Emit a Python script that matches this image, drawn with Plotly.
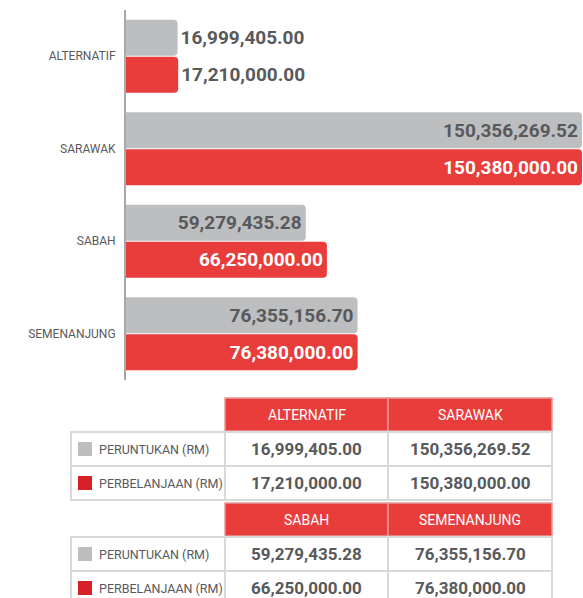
import plotly.graph_objects as go

# ---- data ----
categories = ["ALTERNATIF", "SARAWAK", "SABAH", "SEMENANJUNG"]
peruntukan = [16999405.00, 150356269.52, 59279435.28, 76355156.70]
perbelanjaan = [17210000.00, 150380000.00, 66250000.00, 76380000.00]
series_names = ["PERUNTUKAN (RM)", "PERBELANJAAN (RM)"]
label_positions = ["outside", "inside", "inside", "inside"]

W, H = 583, 598
GRAY = "#bdbec0"
RED = "#e83d3b"
LEG_RED = "#d71f26"
TXT = "#58595b"
FONT = "Roboto"

def X(px):
    return px / W

def Y(py):
    return 1 - py / H

def fmt(v):
    return f"{v:,.2f}"

fig = go.Figure()
fig.add_trace(go.Bar(
    y=categories, x=peruntukan, orientation="h", name=series_names[0],
    marker=dict(color=GRAY, line=dict(width=0)),
    text=[fmt(v) for v in peruntukan], textposition=label_positions,
    insidetextanchor="end", constraintext="none",
    insidetextfont=dict(color=TXT, size=19, family=FONT, weight="bold"),
    outsidetextfont=dict(color=TXT, size=19, family=FONT, weight="bold"),
    cliponaxis=False, hoverinfo="skip",
))
fig.add_trace(go.Bar(
    y=categories, x=perbelanjaan, orientation="h", name=series_names[1],
    marker=dict(color=RED, line=dict(width=0)),
    text=[fmt(v) for v in perbelanjaan], textposition=label_positions,
    insidetextanchor="end", constraintext="none",
    insidetextfont=dict(color="white", size=19, family=FONT, weight="bold"),
    outsidetextfont=dict(color=TXT, size=19, family=FONT, weight="bold"),
    cliponaxis=False, hoverinfo="skip",
))

shapes = []
annotations = []

# ---- tables ----
col_x = [71, 225, 388, 552]
tables = [
    (categories[0:2], [0, 1], 398),
    (categories[2:4], [2, 3], 503),
]
row_h = 34
for cats, idxs, top in tables:
    # header cells
    for j, cat in enumerate(cats):
        x0, x1 = col_x[j + 1], col_x[j + 2]
        shapes.append(dict(type="rect", xref="paper", yref="paper",
                           x0=X(x0), x1=X(x1), y0=Y(top), y1=Y(top + row_h - 1),
                           fillcolor=RED, line=dict(color="#e49a9a", width=1.5), layer="above"))
        annotations.append(dict(xref="paper", yref="paper", x=X((x0 + x1) / 2), y=Y(top + row_h / 2),
                                text=cat, showarrow=False, xanchor="center", yanchor="middle",
                                font=dict(color="white", size=14, family=FONT)))
    # data rows
    for r, (vals, sq_col) in enumerate([(peruntukan, GRAY), (perbelanjaan, LEG_RED)]):
        y0 = top + row_h * (r + 1)
        y1 = y0 + row_h
        for c in range(3):
            shapes.append(dict(type="rect", xref="paper", yref="paper",
                               x0=X(col_x[c]), x1=X(col_x[c + 1]), y0=Y(y0), y1=Y(y1),
                               fillcolor="white", line=dict(color="#d9d9d9", width=2), layer="above"))
        ym = (y0 + y1) / 2
        shapes.append(dict(type="rect", xref="paper", yref="paper",
                           x0=X(78), x1=X(92), y0=Y(ym - 7), y1=Y(ym + 7),
                           fillcolor=sq_col, line=dict(width=0), layer="above"))
        annotations.append(dict(xref="paper", yref="paper", x=X(97), y=Y(ym),
                                text=series_names[r], showarrow=False, xanchor="left", yanchor="middle",
                                font=dict(color=TXT, size=12.5, family=FONT)))
        for j, i in enumerate(idxs):
            x0, x1 = col_x[j + 1], col_x[j + 2]
            annotations.append(dict(xref="paper", yref="paper", x=X((x0 + x1) / 2), y=Y(ym),
                                    text=fmt(vals[i]), showarrow=False, xanchor="center", yanchor="middle",
                                    font=dict(color=TXT, size=17, family=FONT, weight="bold")))

fig.update_layout(
    width=W, height=H,
    margin=dict(l=0, r=0, t=0, b=0),
    paper_bgcolor="white", plot_bgcolor="white",
    barmode="group", bargap=0.2, bargroupgap=0.03, barcornerradius=4,
    showlegend=False,
    font=dict(family=FONT, color=TXT),
    xaxis=dict(domain=[X(126), 1], range=[0, 150.7e6], visible=False, fixedrange=True),
    yaxis=dict(domain=[Y(380), Y(10)], type="category", autorange="reversed",
               showline=True, linecolor="#a7a8aa", linewidth=2, ticks="",
               showgrid=False, zeroline=False, ticklabelstandoff=6,
               tickfont=dict(size=12, color=TXT, family=FONT), fixedrange=True),
    shapes=shapes, annotations=annotations,
)

fig.write_html("out.html", config={"displayModeBar": False},
               post_script="document.body.style.margin='0';document.body.style.overflow='hidden';")
